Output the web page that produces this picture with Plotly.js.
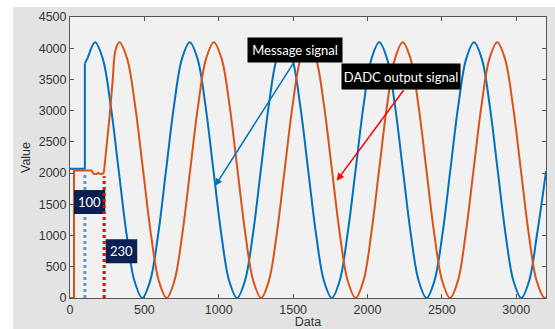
<!DOCTYPE html>
<html><head><meta charset="utf-8">
<script src="https://cdn.plot.ly/plotly-3.0.1.min.js"></script>
<style>html,body{margin:0;padding:0;background:#fff}</style>
</head><body><div id="chart" style="width:555px;height:329px"></div>
<script>
// Message signal (blue): initial step, then the sinusoid
const blueStepX = [0, 100, 100];
const blueStepY = [2068, 2068, 3757];
const blueX = [100, 115, 168, 221, 274, 327, 380, 433, 486, 539, 593, 646, 699, 752,
  805, 858, 911, 964, 1017, 1070, 1123, 1176, 1230, 1283, 1336, 1389,
  1442, 1495, 1548, 1601, 1654, 1707, 1760, 1813, 1866, 1920, 1973, 2026,
  2079, 2132, 2185, 2238, 2291, 2344, 2397, 2450, 2504, 2557, 2610, 2663,
  2716, 2769, 2822, 2875, 2928, 2981, 3034, 3087, 3140, 3194, 3200];
const blueY = [3757, 3825, 4095, 3825, 3075, 2050, 1025, 275, 0, 275, 1025, 2050, 3075, 3825,
  4095, 3825, 3075, 2050, 1025, 275, 0, 275, 1025, 2050, 3075, 3825,
  4095, 3825, 3075, 2050, 1025, 275, 0, 275, 1025, 2050, 3075, 3825,
  4095, 3825, 3075, 2050, 1025, 275, 0, 275, 1025, 2050, 3075, 3825,
  4095, 3825, 3075, 2050, 1025, 275, 0, 275, 1025, 1920, 2030];

// DADC output signal (orange): initial acquisition, then the tracked sinusoid
const orangeStepX = [0, 27, 27, 145, 158, 178, 190, 200, 218, 228];
const orangeStepY = [0, 0, 2042, 2042, 1990, 1985, 2005, 1988, 1985, 2010];
const orangeX = [228, 250, 270, 287, 306, 332, 385, 438, 491, 544, 597, 650, 702, 755,
  808, 861, 914, 967, 1020, 1073, 1126, 1179, 1232, 1285, 1337, 1390,
  1443, 1496, 1549, 1602, 1655, 1708, 1761, 1814, 1867, 1920, 1973, 2025,
  2078, 2131, 2184, 2237, 2290, 2343, 2396, 2449, 2502, 2555, 2608, 2660,
  2713, 2766, 2819, 2872, 2925, 2978, 3031, 3084, 3137, 3190, 3200];
const orangeY = [2010, 2530, 3010, 3490, 3970, 4095, 3825, 3075, 2050, 1025, 275, 0, 275, 1025,
  2050, 3075, 3825, 4095, 3825, 3075, 2050, 1025, 275, 0, 275, 1025,
  2050, 3075, 3825, 4095, 3825, 3075, 2050, 1025, 275, 0, 275, 1025,
  2050, 3075, 3825, 4095, 3825, 3075, 2050, 1025, 275, 0, 275, 1025,
  2050, 3075, 3825, 4095, 3825, 3075, 2050, 1025, 275, 0, 10];

// dotted markers
const markX = [100, 230];
const markTop = [1990, 1950];
const markLabels = ['100', '230'];
const xTicks = [0, 500, 1000, 1500, 2000, 2500, 3000];
const yTicks = [0, 500, 1000, 1500, 2000, 2500, 3000, 3500, 4000, 4500];

const BLUE = '#0072bd', ORANGE = '#d95319';
const traces = [
  {x: blueStepX, y: blueStepY, mode: 'lines', line: {color: BLUE, width: 2}},
  {x: blueX, y: blueY, mode: 'lines', line: {color: BLUE, width: 2, shape: 'spline', smoothing: 1}},
  {x: orangeStepX, y: orangeStepY, mode: 'lines', line: {color: ORANGE, width: 2}},
  {x: orangeX, y: orangeY, mode: 'lines', line: {color: ORANGE, width: 2, shape: 'spline', smoothing: 1}}
];

const shapes = [
  // white border strips
  {type: 'rect', xref: 'paper', yref: 'paper', x0: -0.3, x1: 1.2, y0: 1.0356, y1: 1.2, fillcolor: '#fff', line: {width: 0}, layer: 'below'},
  {type: 'rect', xref: 'paper', yref: 'paper', x0: -0.3, x1: -0.1197, y0: -0.3, y1: 1.2, fillcolor: '#fff', line: {width: 0}, layer: 'below'},
  // blue dotted marker
  {type: 'line', xref: 'x', yref: 'y', x0: markX[0], x1: markX[0], y0: 0, y1: markTop[0], line: {color: '#5b9bd5', width: 3, dash: 'dot'}, layer: 'above'},
  // label boxes
  {type: 'rect', xref: 'x', yref: 'y', x0: 27, x1: 237, y0: 1345, y1: 1729, fillcolor: '#0b1f51', line: {width: 0}, layer: 'above'},
  {type: 'rect', xref: 'x', yref: 'y', x0: 240, x1: 452, y0: 556, y1: 940, fillcolor: '#0b1f51', line: {width: 0}, layer: 'above'},
  // red dotted marker
  {type: 'line', xref: 'x', yref: 'y', x0: markX[1], x1: markX[1], y0: 0, y1: markTop[1], line: {color: '#ff0000', width: 3, dash: 'dot'}, layer: 'above'}
];

const boxFont = {family: 'Lato, Liberation Sans, Arial, sans-serif', size: 13, color: '#fff'};
const annotations = [
  {xref: 'x', yref: 'y', x: 132, y: 1537, text: markLabels[0], showarrow: false, font: boxFont},
  {xref: 'x', yref: 'y', x: 346, y: 748, text: markLabels[1], showarrow: false, font: boxFont},
  {xref: 'paper', yref: 'paper', x: 0.4727, y: 0.8815, xanchor: 'center', yanchor: 'middle', text: 'Message signal',
    showarrow: false, bgcolor: '#000', font: boxFont, width: 90, height: 20, borderpad: 2},
  {xref: 'paper', yref: 'paper', x: 0.6964, y: 0.7875, xanchor: 'center', yanchor: 'middle', text: 'DADC output signal',
    showarrow: false, bgcolor: '#000', font: boxFont, width: 114, height: 21, borderpad: 2},
  {xref: 'x', yref: 'y', x: 975, y: 1793, ax: 79, ay: -124, text: '', showarrow: true,
    arrowhead: 2, arrowsize: 1, arrowwidth: 1.5, arrowcolor: BLUE, standoff: 0},
  {xref: 'x', yref: 'y', x: 1793, y: 1878, ax: 68, ay: -92, text: '', showarrow: true,
    arrowhead: 2, arrowsize: 1, arrowwidth: 1.5, arrowcolor: '#ff0000', standoff: 0}
];

const axisCommon = {
  showgrid: false, zeroline: false, showline: true, linecolor: '#555', linewidth: 1,
  mirror: 'ticks', ticks: 'inside', ticklen: 4, tickcolor: '#555',
  tickfont: {family: 'Liberation Sans, Arial, sans-serif', size: 12.5, color: '#333'}
};

const layout = {
  width: 555, height: 329,
  margin: {l: 70, r: 9, t: 17, b: 31},
  paper_bgcolor: '#e3e3e3', plot_bgcolor: '#f1f1f1',
  showlegend: false,
  xaxis: Object.assign({}, axisCommon, {range: [0, 3200], tickvals: xTicks,
    title: {text: 'Data', font: {family: 'Liberation Sans, Arial, sans-serif', size: 12.5, color: '#333'}, standoff: 2}}),
  yaxis: Object.assign({}, axisCommon, {range: [0, 4500], tickvals: yTicks,
    title: {text: 'Value', font: {family: 'Liberation Sans, Arial, sans-serif', size: 12.5, color: '#333'}, standoff: 5}}),
  shapes: shapes,
  annotations: annotations
};

Plotly.newPlot('chart', traces, layout, {displayModeBar: false, staticPlot: true});
</script></body></html>
